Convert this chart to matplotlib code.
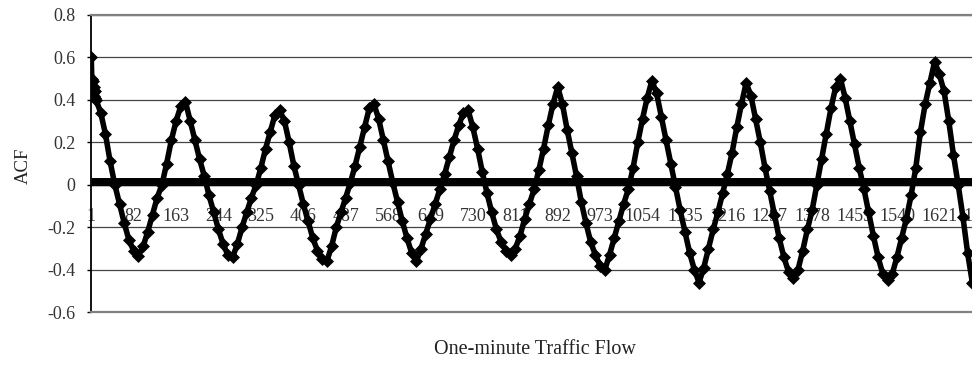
import matplotlib
matplotlib.use('Agg')

import matplotlib.pyplot as plt

# lags: first nine read one by one, then every 9th lag
lags = list(range(1, 10)) + list(range(10, 1685, 9))
acf = [0.60, 0.50, 0.45, 0.49, 0.43, 0.46, 0.42, 0.44, 0.41,
       0.40, 0.34, 0.24, 0.11, 0.00, -0.09, -0.18, -0.26, -0.31, -0.335,
       -0.29, -0.22, -0.14, -0.06, 0.00, 0.10, 0.21, 0.30, 0.37, 0.39,
       0.30, 0.21, 0.12, 0.04, -0.05, -0.13, -0.21, -0.28, -0.33, -0.34,
       -0.28, -0.20, -0.13, -0.06, 0.00, 0.08, 0.17, 0.25, 0.33, 0.35,
       0.30, 0.20, 0.09, 0.00, -0.09, -0.17, -0.25, -0.31, -0.35, -0.36,
       -0.29, -0.20, -0.13, -0.06, 0.01, 0.09, 0.18, 0.27, 0.36, 0.38,
       0.31, 0.21, 0.11, 0.01, -0.08, -0.17, -0.25, -0.32, -0.36, -0.30,
       -0.23, -0.16, -0.09, -0.02, 0.05, 0.13, 0.21, 0.28, 0.34, 0.35,
       0.27, 0.17, 0.06, -0.04, -0.13, -0.21, -0.27, -0.31, -0.33, -0.30,
       -0.24, -0.16, -0.09, -0.02, 0.07, 0.17, 0.28, 0.38, 0.46, 0.38,
       0.26, 0.15, 0.04, -0.08, -0.18, -0.27, -0.33, -0.38, -0.40, -0.33,
       -0.25, -0.17, -0.09, -0.02, 0.08, 0.20, 0.31, 0.41, 0.49, 0.43,
       0.32, 0.21, 0.10, -0.01, -0.12, -0.22, -0.32, -0.40, -0.46, -0.39,
       -0.30, -0.21, -0.13, -0.04, 0.05, 0.15, 0.27, 0.38, 0.48, 0.42,
       0.31, 0.20, 0.08, -0.03, -0.14, -0.25, -0.34, -0.41, -0.44, -0.40,
       -0.31, -0.21, -0.12, 0.00, 0.12, 0.24, 0.36, 0.46, 0.50, 0.41,
       0.30, 0.19, 0.08, -0.02, -0.13, -0.24, -0.34, -0.42, -0.45, -0.42,
       -0.34, -0.25, -0.16, -0.05, 0.08, 0.25, 0.38, 0.48, 0.58, 0.52,
       0.44, 0.30, 0.14, 0.00, -0.15, -0.32, -0.46]
band = [0.02] * len(lags)

tick_lags = list(range(1, 1703, 81))
y_ticks = [-0.6, -0.4, -0.2, 0.0, 0.2, 0.4, 0.6, 0.8]
y_labels = ['-0.6', '-0.4', '-0.2', '0', '0.2', '0.4', '0.6', '0.8']

assert len(lags) == len(acf)

plt.rcParams['font.family'] = ['Liberation Serif', 'DejaVu Serif']

W, H = 972, 368
fig = plt.figure(figsize=(W / 100, H / 100), dpi=100)
n_axis = 1720
px_per_lag = 0.5235
ax = fig.add_axes([91 / W, (H - 312.3) / H, n_axis * px_per_lag / W, 297.5 / H])

ax.plot(lags, band, color='black', lw=5, solid_capstyle='butt', zorder=3)
ax.plot(lags, acf, color='black', lw=4, marker='D', markersize=6.5,
        markeredgewidth=0.5, solid_joinstyle='round', zorder=4)
ax.axhline(0, color='black', lw=1, zorder=2)

ax.set_xlim(0.5, n_axis + 0.5)
ax.set_ylim(-0.6, 0.8)
ax.set_yticks(y_ticks)
ax.set_yticklabels(y_labels)
ax.set_xticks([])
ax.yaxis.grid(True, color='#444444', lw=0.9)
ax.set_axisbelow(True)
ax.tick_params(axis='y', length=3, width=1, pad=8, labelsize=13,
               labelcolor='#333333')

for k in tick_lags:
    ax.text(k, -0.15, str(k), ha='center', va='center', fontsize=13,
            color='#333333', zorder=1)

ax.spines['left'].set_color('black')
ax.spines['left'].set_linewidth(1.3)
for s in ['top', 'bottom', 'right']:
    ax.spines[s].set_color('#808080')
    ax.spines[s].set_linewidth(1.6)

fig.text(23 / W, 1 - 166 / H, 'ACF', rotation=90, ha='center', va='center',
         fontsize=13.5, color='#222222')
fig.text(535 / W, 1 - 350 / H, 'One-minute Traffic Flow', ha='center',
         va='center', fontsize=14.5, color='#222222')

fig.savefig('out.png', dpi=100)
